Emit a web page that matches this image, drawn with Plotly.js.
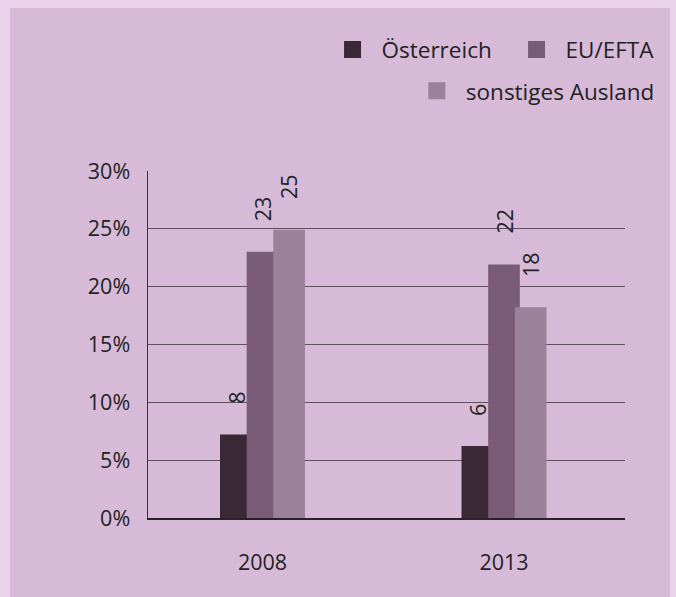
<!DOCTYPE html>
<html>
<head>
<meta charset="utf-8">
<script src="https://cdn.plot.ly/plotly-3.0.1.min.js"></script>
<style>
  html, body { margin: 0; padding: 0; background: #ebd2eb; width: 676px; height: 597px; overflow: hidden; }
  #chart { position: absolute; left: 10px; top: 8px; width: 660px; height: 589px; }
</style>
</head>
<body>
<div id="chart"></div>
<script>
// Data
const years = ['2008', '2013'];
const seriesNames = ['Österreich', 'EU/EFTA', 'sonstiges Ausland'];
const oesterreich = [7.0, 6.0];
const euEfta = [22.8, 21.7];
const sonstiges = [24.7, 18.0];
const labelsOesterreich = ['8', '6'];
const labelsEuEfta = ['23', '22'];
const labelsSonstiges = ['25', '18'];
const yTicks = [0, 5, 10, 15, 20, 25, 30];

const colors = ['#3a2837', '#7a5c78', '#9c819a'];
const values = [oesterreich, euEfta, sonstiges];
const labels = [labelsOesterreich, labelsEuEfta, labelsSonstiges];
const bargap = 0.669;
const legendIds = ['legend', 'legend', 'legend2'];

const traces = values.map((v, i) => ({
  type: 'bar',
  name: seriesNames[i],
  x: years,
  y: v,
  marker: { color: colors[i], line: { color: colors[i], width: 5 } },
  legend: legendIds[i],
  hoverinfo: 'skip'
}));

// value labels, positioned over each bar via axis coordinates
const barW = (1 - bargap) / 3;
const annotations = [];
values.forEach((v, i) => {
  v.forEach((val, j) => {
    annotations.push({
      x: j + (i - 1) * barW,
      y: val,
      xref: 'x', yref: 'y',
      text: labels[i][j],
      textangle: -90,
      showarrow: false,
      xanchor: 'center',
      yanchor: 'bottom',
      yshift: 31,
      font: { family: 'Open Sans, sans-serif', size: 21.5, color: '#222' }
    });
  });
});

const font = { family: 'Open Sans, sans-serif', size: 21.5, color: '#222' };
const legendFont = { family: 'Open Sans, sans-serif', size: 22.5, color: '#222' };

const layout = {
  width: 660,
  height: 589,
  margin: { l: 138, r: 45, t: 163, b: 79, autoexpand: false },
  paper_bgcolor: '#d7bad8',
  plot_bgcolor: 'rgba(0,0,0,0)',
  font: font,
  barmode: 'group',
  bargap: bargap,
  bargroupgap: 0,
  showlegend: true,
  xaxis: {
    type: 'category',
    range: [-0.474, 1.501],
    showgrid: false,
    showline: true,
    linecolor: '#2a2228',
    linewidth: 1.5,
    ticks: '',
    ticklabelstandoff: 25,
    tickfont: font,
    fixedrange: true
  },
  yaxis: {
    range: [0, 30],
    tickvals: yTicks,
    ticktext: yTicks.map(t => t + '%'),
    showgrid: true,
    gridcolor: '#5f4f5f',
    gridwidth: 1.2,
    showline: true,
    linecolor: '#3a3038',
    linewidth: 1.5,
    zeroline: false,
    ticks: '',
    ticklabelstandoff: 12,
    tickfont: font,
    fixedrange: true
  },
  legend: {
    orientation: 'h',
    x: 1.1395, xanchor: 'right',
    y: 1.349, yanchor: 'middle',
    bgcolor: 'rgba(0,0,0,0)',
    font: legendFont,
    itemwidth: 48,
    entrywidth: 121,
    traceorder: 'normal'
  },
  legend2: {
    orientation: 'h',
    x: 1.073, xanchor: 'right',
    y: 1.23, yanchor: 'middle',
    bgcolor: 'rgba(0,0,0,0)',
    font: legendFont,
    itemwidth: 48
  },
  annotations: annotations
};

Plotly.newPlot('chart', traces, layout, { displayModeBar: false, staticPlot: true });
</script>
</body>
</html>
